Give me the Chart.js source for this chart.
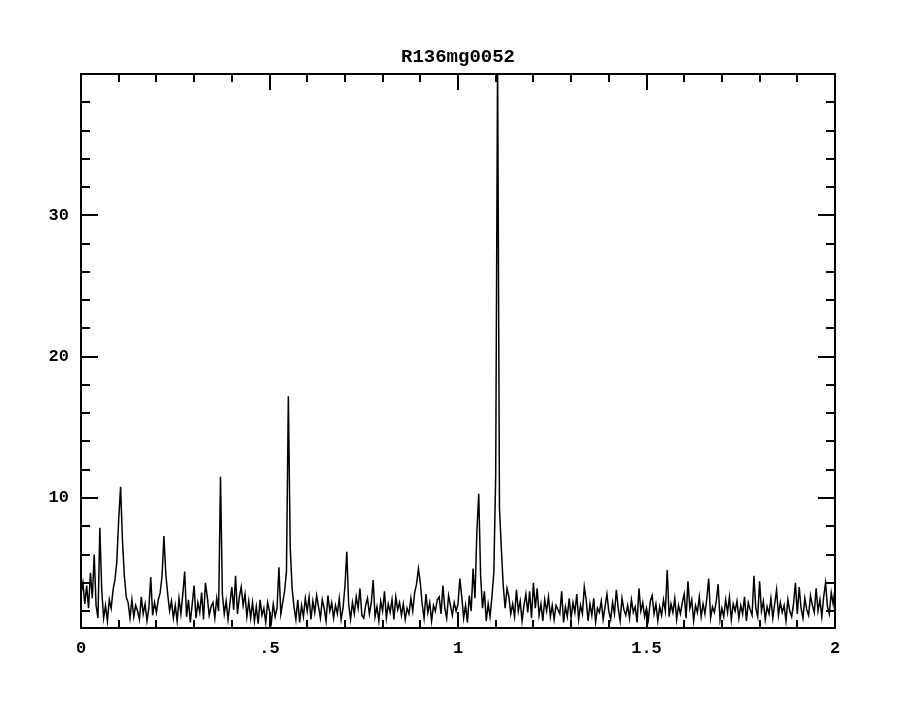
<!DOCTYPE html>
<html lang="en">

<head>
    <meta charset="UTF-8" />
    <title>R136mg0052</title>
    <script src="https://cdn.jsdelivr.net/npm/chart.js"></script>
    <style>
        body {
            margin: 0;
            background: #ffffff;
        }
    </style>
</head>

<body>
    <canvas id="powerChart" width="900" height="702"></canvas>

    <script>
        const chartTitle = "R136mg0052";

        // frequency grid: first value and spacing of the samples below
        const freqStart = 0;
        const freqStep = 0.005;

        // power, one value per frequency sample
        const power = [
            3.2, 4.0, 2.5, 3.8, 2.2, 4.7, 2.9, 6.0, 2.4, 1.5,
            7.9, 3.5, 1.5, 2.4, 1.3, 2.8, 2.2, 3.5, 4.2, 5.5,
            8.5, 10.8, 7.0, 4.5, 3.0, 2.6, 1.5, 2.8, 1.6, 2.4,
            2.0, 1.4, 3.0, 1.8, 2.5, 1.3, 2.2, 4.4, 1.7, 2.6,
            1.9, 2.8, 3.3, 4.5, 7.3, 4.6, 3.2, 2.0, 2.7, 1.5,
            2.4, 1.3, 2.9, 1.8, 3.2, 4.8, 1.6, 2.8, 1.2, 2.5,
            3.8, 1.5, 2.6, 1.9, 3.3, 1.4, 4.0, 3.0, 1.7, 2.3,
            2.6, 1.5, 2.9, 2.0, 11.5, 3.2, 1.8, 2.7, 1.4, 2.5,
            3.7, 2.1, 4.5, 1.8, 3.0, 3.7, 2.4, 3.2, 1.6, 2.7,
            1.5, 2.6, 1.3, 2.3, 1.1, 2.8, 1.7, 2.2, 1.2, 2.6,
            2.0, 1.2, 2.5, 1.6, 2.2, 5.1, 1.8, 2.6, 3.4, 4.8,
            17.2, 6.5, 3.6, 2.3, 1.4, 2.8, 1.2, 2.4, 1.6, 2.9,
            2.0, 3.0, 1.4, 2.7, 1.9, 3.1, 2.3, 1.5, 2.8, 2.2,
            1.3, 3.1, 2.0, 2.6, 1.5, 2.4, 1.8, 2.9, 1.4, 2.2,
            3.7, 6.2, 2.5, 1.4, 2.6, 1.8, 3.0, 2.2, 3.6, 1.7,
            1.5, 2.4, 2.9, 1.8, 2.6, 4.2, 1.6, 2.3, 1.3, 2.7,
            2.0, 3.4, 1.5, 2.5, 1.9, 2.8, 1.4, 3.0, 2.1, 2.6,
            1.7, 2.5, 1.4, 2.2, 1.8, 2.9, 2.0, 3.3, 3.9, 5.0,
            4.0, 2.5, 1.5, 3.2, 1.9, 2.6, 1.3, 2.4, 2.0, 2.8,
            3.0, 1.8, 3.8, 2.2, 1.5, 3.1, 2.4, 1.7, 2.6, 2.0,
            2.5, 4.3, 3.0, 1.5, 2.4, 1.2, 3.1, 2.0, 5.0, 2.9,
            7.6, 10.3, 4.5, 2.2, 3.4, 1.3, 2.5, 1.6, 3.0, 4.7,
            11.6, 41.0, 9.3, 6.4, 3.8, 2.2, 3.6, 3.0, 1.8, 2.5,
            1.6, 3.5, 2.0, 2.7, 1.3, 2.4, 3.2, 1.9, 3.4, 1.5,
            4.0, 2.2, 3.6, 1.7, 2.5, 1.3, 2.8, 2.0, 3.0, 1.6,
            2.4, 1.4, 2.4, 2.1, 1.8, 3.4, 1.2, 2.3, 1.6, 2.9,
            1.5, 2.6, 1.9, 3.2, 1.4, 2.4, 1.8, 3.7, 2.8, 1.3,
            2.5, 1.7, 2.9, 1.2, 2.2, 1.9, 2.7, 1.4, 2.3, 3.2,
            2.0, 1.4, 2.6, 1.8, 3.5, 2.2, 1.3, 2.9, 2.1, 1.7,
            2.4, 1.5, 2.8, 1.9, 2.3, 1.2, 3.6, 2.0, 2.6, 1.6,
            2.2, 1.4, 2.7, 3.1, 1.8, 2.5, 1.3, 2.3, 1.7, 2.8,
            2.0, 4.9, 1.6, 2.5, 1.9, 2.9, 1.4, 2.4, 1.8, 2.6,
            3.2, 1.5, 4.1, 2.2, 2.8, 1.3, 2.4, 1.9, 3.0, 1.6,
            2.5, 1.8, 2.9, 4.3, 1.5, 2.3, 1.9, 2.7, 3.9, 1.4,
            2.2, 1.6, 2.8, 1.9, 3.0, 1.4, 2.5, 2.0, 2.7, 1.5,
            2.4, 1.8, 3.0, 1.3, 2.6, 2.1, 1.7, 4.5, 2.2, 1.6,
            4.1, 2.0, 2.7, 1.4, 2.3, 1.8, 2.9, 1.5, 2.5, 3.5,
            1.7, 2.6, 1.9, 2.4, 1.3, 2.8, 2.0, 1.6, 2.5, 4.0,
            1.8, 3.7, 2.2, 1.5, 2.9, 2.1, 1.7, 3.1, 2.4, 1.9,
            3.6, 2.0, 2.8, 1.6, 3.0, 4.0, 2.3, 1.8, 3.3, 2.5, 3.6
        ];

        // axis ranges and labelled ticks
        const xRange = [0, 2];
        const yRange = [0.8, 40];
        const xMajorTicks = [0, 0.5, 1, 1.5, 2];
        const xTickLabels = ["0", ".5", "1", "1.5", "2"];
        const yMajorTicks = [10, 20, 30];
        const yTickLabels = ["10", "20", "30"];
        const xMinorStep = 0.1;
        const yMinorStep = 2;

        const points = power.map((p, i) => ({ x: freqStart + i * freqStep, y: p }));

        const fontFamily = "'Liberation Mono', 'DejaVu Sans Mono', monospace";
        const labelFont = { family: fontFamily, size: 17, weight: "bold" };

        // frame, inward ticks on all four sides, and the title
        const framePlugin = {
            id: "frame",
            afterDraw(chart) {
                const ctx = chart.ctx;
                const area = chart.chartArea;
                const xs = chart.scales.x;
                const ys = chart.scales.y;
                ctx.save();
                ctx.strokeStyle = "#000";
                ctx.lineWidth = 2;
                ctx.strokeRect(area.left, area.top, area.right - area.left, area.bottom - area.top);

                ctx.beginPath();
                const nx = Math.round((xRange[1] - xRange[0]) / xMinorStep);
                for (let i = 1; i < nx; i++) {
                    const v = xRange[0] + i * xMinorStep;
                    const px = Math.round(xs.getPixelForValue(v));
                    const major = xMajorTicks.some(t => Math.abs(t - v) < 1e-6);
                    const len = major ? 16 : 8;
                    ctx.moveTo(px, area.bottom);
                    ctx.lineTo(px, area.bottom - len);
                    ctx.moveTo(px, area.top);
                    ctx.lineTo(px, area.top + len);
                }
                for (let v = yMinorStep; v < yRange[1]; v += yMinorStep) {
                    const py = Math.round(ys.getPixelForValue(v));
                    const major = yMajorTicks.includes(v);
                    const len = major ? 17 : 9;
                    ctx.moveTo(area.left, py);
                    ctx.lineTo(area.left + len, py);
                    ctx.moveTo(area.right, py);
                    ctx.lineTo(area.right - len, py);
                }
                ctx.stroke();

                ctx.fillStyle = "#000";
                ctx.font = "bold 19px " + fontFamily;
                ctx.textAlign = "center";
                ctx.textBaseline = "middle";
                ctx.fillText(chartTitle, (area.left + area.right) / 2, 57);
                ctx.restore();
            }
        };

        const config = {
            type: "line",
            data: {
                datasets: [
                    {
                        label: chartTitle,
                        data: points,
                        borderColor: "#000",
                        borderWidth: 1.5,
                        pointRadius: 0,
                        tension: 0,
                        fill: false,
                    },
                ],
            },
            options: {
                responsive: false,
                animation: false,
                events: [],
                layout: {
                    padding: { left: 0, right: 65, top: 74, bottom: 0 },
                },
                plugins: {
                    legend: { display: false },
                    tooltip: { enabled: false },
                },
                scales: {
                    x: {
                        type: "linear",
                        min: xRange[0],
                        max: xRange[1],
                        afterBuildTicks: (scale) => {
                            scale.ticks = xMajorTicks.map(v => ({ value: v }));
                        },
                        afterFit: (scale) => {
                            scale.height = 74;
                        },
                        grid: { display: false, drawTicks: false },
                        border: { display: false },
                        ticks: {
                            color: "#000",
                            font: labelFont,
                            padding: 11,
                            maxRotation: 0,
                            autoSkip: false,
                            callback: (v) => xTickLabels[xMajorTicks.indexOf(v)],
                        },
                    },
                    y: {
                        min: yRange[0],
                        max: yRange[1],
                        afterBuildTicks: (scale) => {
                            scale.ticks = yMajorTicks.map(v => ({ value: v }));
                        },
                        afterFit: (scale) => {
                            scale.width = 81;
                        },
                        grid: { display: false, drawTicks: false },
                        border: { display: false },
                        ticks: {
                            color: "#000",
                            font: labelFont,
                            padding: 12,
                            autoSkip: false,
                            callback: (v) => yTickLabels[yMajorTicks.indexOf(v)],
                        },
                    },
                },
            },
            plugins: [framePlugin],
        };

        window.onload = function () {
            const ctx = document.getElementById("powerChart").getContext("2d");
            new Chart(ctx, config);
        };
    </script>
</body>

</html>
